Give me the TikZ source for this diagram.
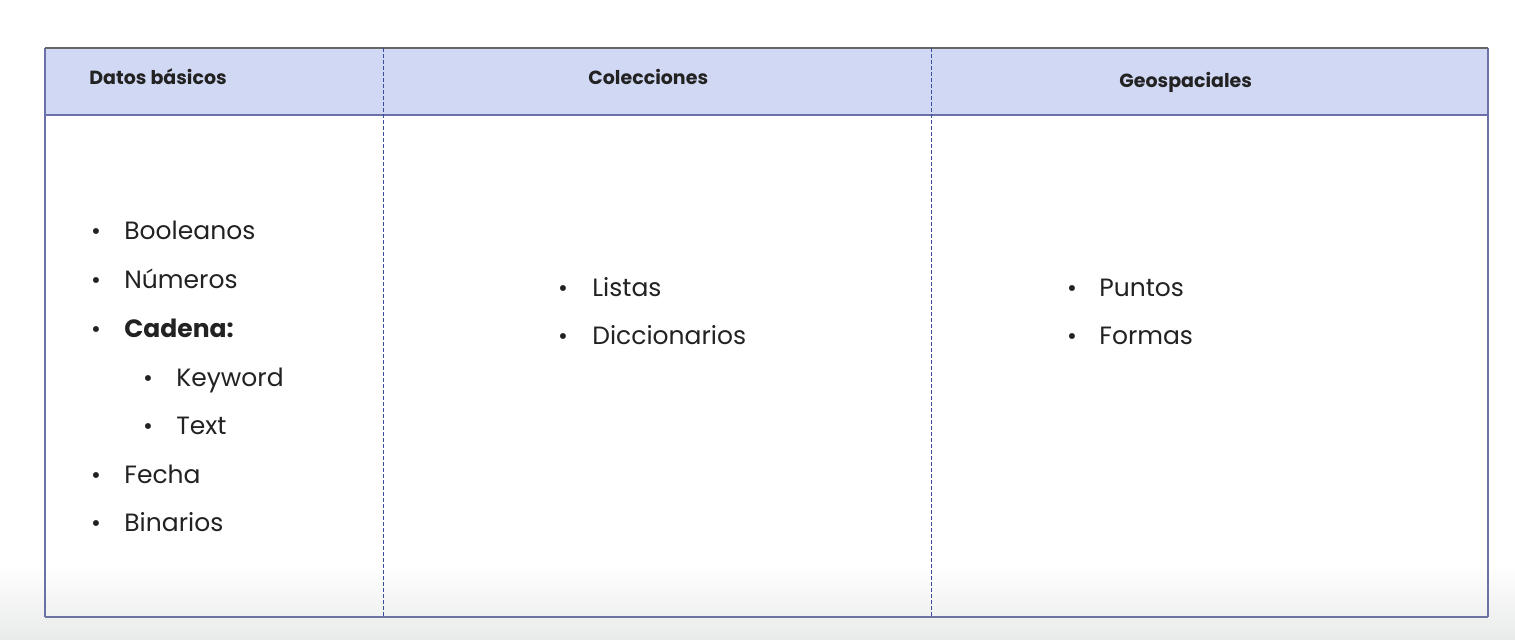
\documentclass[tikz,border=0pt]{standalone}
\usepackage{fontspec}
\setmainfont{Poppins}
\usepackage{tikz}
\usetikzlibrary{positioning}

\definecolor{headfill}{HTML}{D1D8F3}
\definecolor{frameblue}{HTML}{6B70A8}
\definecolor{dotblue}{HTML}{3A4C9C}
\definecolor{bottomgray}{HTML}{E9EAEA}
\definecolor{textdark}{HTML}{222222}

\begin{document}
\begin{tikzpicture}[x=0.5pt,y=-0.5pt,
                    head/.style={font=\fontsize{9.5}{11}\selectfont\bfseries,
                                 text=textdark,inner sep=0pt},
                    entry/.style={font=\fontsize{12.5}{14}\selectfont,
                                  text=textdark,inner sep=0pt,anchor=base west},
                    dot/.style={font=\fontsize{12}{14}\selectfont,
                                text=textdark,inner sep=0pt,anchor=base},
                    divider/.style={dotblue,line width=0.4pt,dash pattern=on 1.8pt off 1.2pt}]

  \useasboundingbox (0,0) rectangle (1515,640);
  % background fading to grey at the bottom
  \fill[white] (0,0) rectangle (1515,640);
  \shade[top color=white,bottom color=bottomgray] (0,565) rectangle (1515,640);

  % header band
  \fill[headfill] (45,48) rectangle (1488,115);

  % frame
  \draw[frameblue,line width=0.6pt] (45,48) -- (45,617) (1488,48) -- (1488,617);
  \draw[gray!80!black,line width=0.9pt] (45,48) -- (1488,48);
  \draw[frameblue,line width=1pt] (45,115) -- (1488,115);
  \draw[frameblue!80!gray,line width=1.2pt] (45,617) -- (1488,617);
  \draw[divider] (383,48) -- (383,617);
  \draw[divider] (931,48) -- (931,617);

  % headers
  \node[head,anchor=base west] (hbasic) at (89,85) {Datos básicos};
  \node[head,anchor=base west] (hcoll) at (588,85) {Colecciones};
  \node[head,anchor=base west] (hgeo) at (1119,88) {Geospaciales};

  % first column
  \foreach \name/\txt/\yy in {bool/Booleanos/240,num/Números/289,
                              cad/{\bfseries Cadena:}/338,fecha/Fecha/484,bin/Binarios/532}
  {
    \node[dot] (d\name) at (96,\yy) {•};
    \node[entry] (\name) at (124,\yy) {\txt};
  }
  \foreach \name/\txt/\yy in {key/Keyword/387,text/Text/435}
  {
    \node[dot] (d\name) at (148,\yy) {•};
    \node[entry] (\name) at (176,\yy) {\txt};
  }

  % second column
  \foreach \name/\txt/\yy in {list/Listas/297,dict/Diccionarios/345}
  {
    \node[dot] (d\name) at (563,\yy) {•};
    \node[entry] (\name) at (592,\yy) {\txt};
  }

  % third column
  \foreach \name/\txt/\yy in {pts/Puntos/297,forms/Formas/345}
  {
    \node[dot] (d\name) at (1072,\yy) {•};
    \node[entry] (\name) at (1099,\yy) {\txt};
  }
\end{tikzpicture}
\end{document}
